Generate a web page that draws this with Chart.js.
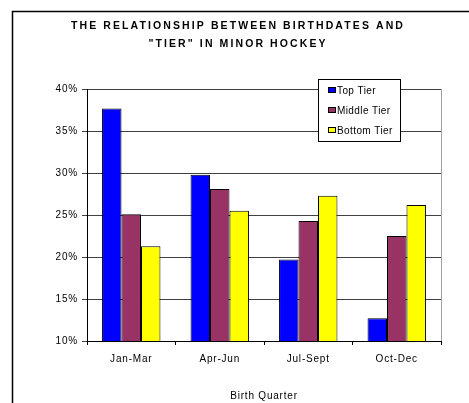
<!DOCTYPE html>
<html><head><meta charset="utf-8">
<script src="https://cdn.jsdelivr.net/npm/chart.js@4.4.0/dist/chart.umd.min.js"></script>
<style>html,body{margin:0;padding:0;background:#fff;}canvas{display:block}</style>
</head><body>
<canvas id="c" width="469" height="403"></canvas>
<script>
const categories = ['Jan-Mar', 'Apr-Jun', 'Jul-Sept', 'Oct-Dec'];
const seriesNames = ['Top Tier', 'Middle Tier', 'Bottom Tier'];
const topTier = [37.7, 29.8, 19.7, 12.7];
const middleTier = [25.1, 28.1, 24.3, 22.5];
const bottomTier = [21.3, 25.5, 27.3, 26.2];
const yTicks = [10, 15, 20, 25, 30, 35, 40];
const titleLines = ['THE RELATIONSHIP BETWEEN BIRTHDATES AND', '"TIER" IN MINOR HOCKEY'];
const xTitle = 'Birth Quarter';
const colors = ['#0000FF', '#993366', '#FFFF00'];

const FONT = '"Liberation Sans", Arial, sans-serif';

const framePlugin = {
  id: 'frame',
  beforeDraw(chart) {
    const c = chart.ctx;
    c.letterSpacing = '0.8px';
    c.save();
    c.fillStyle = '#fff';
    c.fillRect(0, 0, chart.width, chart.height);
    c.strokeStyle = '#000';
    c.lineWidth = 1.5;
    c.beginPath();
    c.moveTo(12.5, chart.height + 2);
    c.lineTo(12.5, 11.5);
    c.lineTo(chart.width + 2, 11.5);
    c.stroke();
    c.restore();
  },
  beforeDatasetsDraw(chart) {
    const c = chart.ctx, a = chart.chartArea;
    c.save();
    c.strokeStyle = '#a0a0a0';
    c.lineWidth = 1;
    c.beginPath();
    c.moveTo(Math.round(a.right) + 0.5, a.top);
    c.lineTo(Math.round(a.right) + 0.5, a.bottom);
    c.stroke();
    c.restore();
  },
  afterInit(chart) {
    const tb = chart.titleBlock;
    if (tb) {
      const orig = tb.draw.bind(tb);
      tb.draw = function () {
        const c = chart.ctx;
        c.save();
        c.letterSpacing = '2.1px';
        orig();
        c.restore();
      };
    }
  },
  afterDraw(chart) {
    const c = chart.ctx;
    c.save();
    c.fillStyle = '#fff';
    c.fillRect(318, 79, 83, 63);
    c.strokeStyle = '#000';
    c.lineWidth = 1;
    c.strokeRect(318.5, 79.5, 82, 62);
    c.font = '10px ' + FONT;
    c.letterSpacing = '0.4px';
    c.textBaseline = 'middle';
    c.textAlign = 'left';
    chart.data.datasets.forEach((ds, i) => {
      const y = 91 + i * 20;
      c.fillStyle = ds.backgroundColor;
      c.fillRect(329, y - 3, 7, 5);
      c.strokeStyle = '#000';
      c.strokeRect(328.5, y - 3.5, 7, 5);
      c.fillStyle = '#000';
      c.fillText(ds.label, 337, y);
    });
    c.restore();
  }
};

new Chart(document.getElementById('c'), {
  type: 'bar',
  data: {
    labels: categories,
    datasets: [
      { label: seriesNames[0], data: topTier, backgroundColor: colors[0] },
      { label: seriesNames[1], data: middleTier, backgroundColor: colors[1] },
      { label: seriesNames[2], data: bottomTier, backgroundColor: colors[2] }
    ].map(d => Object.assign(d, { borderColor: '#000', borderWidth: 1, categoryPercentage: 0.66, barPercentage: 1.0 }))
  },
  options: {
    responsive: false,
    animation: false,
    devicePixelRatio: 1,
    layout: { padding: { left: 35, right: 28, top: 0, bottom: 0 } },
    plugins: {
      legend: { display: false },
      tooltip: { enabled: false },
      title: {
        display: true,
        text: titleLines,
        color: '#000',
        font: { family: FONT, size: 10.5, weight: 'bold', lineHeight: 1.72 },
        padding: { top: 17, bottom: 36 }
      }
    },
    scales: {
      x: {
        grid: { display: true, drawOnChartArea: false, drawTicks: true, tickLength: 4, color: '#000', offset: true },
        border: { color: '#000', width: 1 },
        ticks: { color: '#000', font: { family: FONT, size: 10 }, padding: 8, maxRotation: 0 },
        title: { display: true, text: xTitle, color: '#000', font: { family: FONT, size: 10, lineHeight: 1.2 }, padding: { top: 4, bottom: 1 } },
        afterFit(scale) { scale.height = 62; }
      },
      y: {
        min: 10, max: 40,
        afterBuildTicks(scale) { scale.ticks = yTicks.map(v => ({ value: v })); },
        grid: { color: '#404040', tickLength: 5, drawTicks: true },
        border: { color: '#000', width: 1 },
        ticks: { color: '#000', font: { family: FONT, size: 10 }, padding: 4, callback: v => v + '%' },
        afterFit(scale) { scale.width = 52; }
      }
    }
  },
  plugins: [framePlugin]
});
</script>
</body></html>
